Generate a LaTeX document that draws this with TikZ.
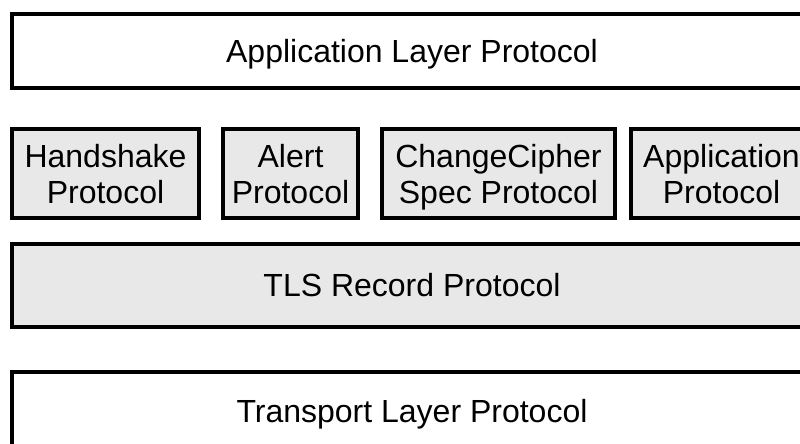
\documentclass[tikz,border=0pt]{standalone}
\usepackage{fontspec}
\setmainfont{Liberation Sans}
\tikzset{
  layer/.style={draw,line width=3.5pt,rectangle,inner sep=0pt},
  sublayer/.style={layer,fill=gray!18},
  lbl/.style={align=center,inner sep=0pt,anchor=base,
    font=\fontsize{32}{36}\selectfont}
}
\begin{document}
\begin{tikzpicture}[x=1pt,y=-1pt]
\clip (0,0) rectangle (800,444);
% boxes
\node[layer,minimum width=800pt,minimum height=74pt] (app) at (412,51) {};
\node[sublayer,minimum width=187pt,minimum height=89pt] (hs) at (105.5,173.5) {};
\node[sublayer,minimum width=135pt,minimum height=89pt] (alert) at (290.5,173.5) {};
\node[sublayer,minimum width=233pt,minimum height=89pt] (ccs) at (498.5,173.5) {};
\node[sublayer,minimum width=181pt,minimum height=89pt] (appdata) at (721.5,173.5) {};
\node[sublayer,minimum width=800pt,minimum height=83pt] (rec) at (412,285.5) {};
\node[layer,minimum width=800pt,minimum height=90pt] (trans) at (412,417) {};
% labels (base = last line)
\node[lbl] (applbl) at (412,63) {Application Layer Protocol};
\node[lbl] (hslbl) at (105.5,203) {Handshake\\Protocol};
\node[lbl] (alertlbl) at (290.5,203) {Alert\\Protocol};
\node[lbl] (ccslbl) at (498.5,203) {ChangeCipher\\Spec Protocol};
\node[lbl] (appdatalbl) at (721.5,203) {Application\\Protocol};
\node[lbl] (reclbl) at (412,296) {TLS Record Protocol};
\node[lbl] (translbl) at (412,422) {Transport Layer Protocol};
\end{tikzpicture}
\end{document}
